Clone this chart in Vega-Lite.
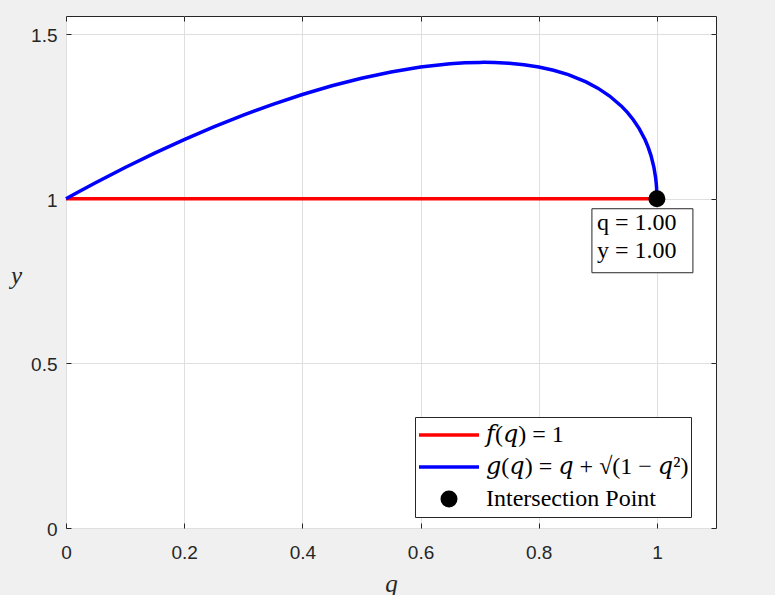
{
  "$schema": "https://vega.github.io/schema/vega-lite/v6.json",
  "width": 650,
  "height": 512,
  "autosize": "none",
  "padding": {"left": 66, "top": 16, "right": 59, "bottom": 67},
  "background": "#f0f0f0",
  "config": {
    "view": {"fill": "white", "stroke": "#262626", "strokeWidth": 1},
    "axis": {
      "labelFont": "Liberation Sans",
      "labelFontSize": 19,
      "labelColor": "#262626",
      "labelFlush": false,
      "tickColor": "#262626",
      "tickSize": -5,
      "tickWidth": 1,
      "domain": false,
      "gridColor": "#dfdfdf",
      "gridWidth": 1,
      "titleFont": "Liberation Serif",
      "titleFontStyle": "italic",
      "titleFontWeight": "normal",
      "titleFontSize": 25,
      "titleColor": "#262626"
    }
  },
  "datasets": {
    "f": [
      {"series": "𝑓(𝑞) = 1", "q": 0, "y": 1},
      {"series": "𝑓(𝑞) = 1", "q": 1, "y": 1}
    ],
    "g": [
      {"series": "𝑔(𝑞) = 𝑞 + √(1 − 𝑞²)", "q": 0, "y": 1},
      {"series": "𝑔(𝑞) = 𝑞 + √(1 − 𝑞²)", "q": 0.02, "y": 1.0198},
      {"series": "𝑔(𝑞) = 𝑞 + √(1 − 𝑞²)", "q": 0.05, "y": 1.04875},
      {"series": "𝑔(𝑞) = 𝑞 + √(1 − 𝑞²)", "q": 0.1, "y": 1.09499},
      {"series": "𝑔(𝑞) = 𝑞 + √(1 − 𝑞²)", "q": 0.15, "y": 1.13869},
      {"series": "𝑔(𝑞) = 𝑞 + √(1 − 𝑞²)", "q": 0.2, "y": 1.1798},
      {"series": "𝑔(𝑞) = 𝑞 + √(1 − 𝑞²)", "q": 0.25, "y": 1.21825},
      {"series": "𝑔(𝑞) = 𝑞 + √(1 − 𝑞²)", "q": 0.3, "y": 1.25394},
      {"series": "𝑔(𝑞) = 𝑞 + √(1 − 𝑞²)", "q": 0.35, "y": 1.28675},
      {"series": "𝑔(𝑞) = 𝑞 + √(1 − 𝑞²)", "q": 0.4, "y": 1.31652},
      {"series": "𝑔(𝑞) = 𝑞 + √(1 − 𝑞²)", "q": 0.45, "y": 1.34303},
      {"series": "𝑔(𝑞) = 𝑞 + √(1 − 𝑞²)", "q": 0.5, "y": 1.36603},
      {"series": "𝑔(𝑞) = 𝑞 + √(1 − 𝑞²)", "q": 0.55, "y": 1.38516},
      {"series": "𝑔(𝑞) = 𝑞 + √(1 − 𝑞²)", "q": 0.6, "y": 1.4},
      {"series": "𝑔(𝑞) = 𝑞 + √(1 − 𝑞²)", "q": 0.65, "y": 1.40993},
      {"series": "𝑔(𝑞) = 𝑞 + √(1 − 𝑞²)", "q": 0.675, "y": 1.41282},
      {"series": "𝑔(𝑞) = 𝑞 + √(1 − 𝑞²)", "q": 0.7, "y": 1.41414},
      {"series": "𝑔(𝑞) = 𝑞 + √(1 − 𝑞²)", "q": 0.707, "y": 1.41421},
      {"series": "𝑔(𝑞) = 𝑞 + √(1 − 𝑞²)", "q": 0.725, "y": 1.41375},
      {"series": "𝑔(𝑞) = 𝑞 + √(1 − 𝑞²)", "q": 0.75, "y": 1.41144},
      {"series": "𝑔(𝑞) = 𝑞 + √(1 − 𝑞²)", "q": 0.775, "y": 1.40696},
      {"series": "𝑔(𝑞) = 𝑞 + √(1 − 𝑞²)", "q": 0.8, "y": 1.4},
      {"series": "𝑔(𝑞) = 𝑞 + √(1 − 𝑞²)", "q": 0.825, "y": 1.39013},
      {"series": "𝑔(𝑞) = 𝑞 + √(1 − 𝑞²)", "q": 0.85, "y": 1.37678},
      {"series": "𝑔(𝑞) = 𝑞 + √(1 − 𝑞²)", "q": 0.88, "y": 1.35497},
      {"series": "𝑔(𝑞) = 𝑞 + √(1 − 𝑞²)", "q": 0.9, "y": 1.33589},
      {"series": "𝑔(𝑞) = 𝑞 + √(1 − 𝑞²)", "q": 0.92, "y": 1.31192},
      {"series": "𝑔(𝑞) = 𝑞 + √(1 − 𝑞²)", "q": 0.94, "y": 1.28117},
      {"series": "𝑔(𝑞) = 𝑞 + √(1 − 𝑞²)", "q": 0.95, "y": 1.26225},
      {"series": "𝑔(𝑞) = 𝑞 + √(1 − 𝑞²)", "q": 0.96, "y": 1.24},
      {"series": "𝑔(𝑞) = 𝑞 + √(1 − 𝑞²)", "q": 0.97, "y": 1.2131},
      {"series": "𝑔(𝑞) = 𝑞 + √(1 − 𝑞²)", "q": 0.98, "y": 1.179},
      {"series": "𝑔(𝑞) = 𝑞 + √(1 − 𝑞²)", "q": 0.985, "y": 1.15755},
      {"series": "𝑔(𝑞) = 𝑞 + √(1 − 𝑞²)", "q": 0.99, "y": 1.13107},
      {"series": "𝑔(𝑞) = 𝑞 + √(1 − 𝑞²)", "q": 0.995, "y": 1.09487},
      {"series": "𝑔(𝑞) = 𝑞 + √(1 − 𝑞²)", "q": 0.998, "y": 1.06121},
      {"series": "𝑔(𝑞) = 𝑞 + √(1 − 𝑞²)", "q": 0.999, "y": 1.04371},
      {"series": "𝑔(𝑞) = 𝑞 + √(1 − 𝑞²)", "q": 0.9995, "y": 1.03112},
      {"series": "𝑔(𝑞) = 𝑞 + √(1 − 𝑞²)", "q": 1, "y": 1}
    ],
    "pt": [
      {"series": "Intersection Point", "q": 1, "y": 1, "label": "q = 1.00\ny = 1.00"}
    ]
  },
  "resolve": {"axis": {"x": "independent", "y": "independent"}},
  "layer": [
    {
      "data": {"name": "f"},
      "mark": {"type": "line", "strokeWidth": 3.5},
      "encoding": {
        "x": {
          "field": "q", "type": "quantitative",
          "scale": {"domain": [0, 1.1], "nice": false, "zero": false},
          "axis": {"orient": "bottom", "values": [0, 0.2, 0.4, 0.6, 0.8, 1], "format": "~g", "labelPadding": 20, "title": "q", "titleY": 55, "titleBaseline": "middle"}
        },
        "y": {
          "field": "y", "type": "quantitative",
          "scale": {"domain": [0, 1.555], "nice": false, "zero": false},
          "axis": {"orient": "left", "values": [0, 0.5, 1, 1.5], "format": "~g", "labelPadding": 14, "labelOffset": 1.5, "title": "y", "titleAngle": 0, "titleX": -50, "titleY": 259, "titleBaseline": "middle", "titleAlign": "center"}
        },
        "color": {
          "field": "series", "type": "nominal",
          "scale": {"domain": ["𝑓(𝑞) = 1", "𝑔(𝑞) = 𝑞 + √(1 − 𝑞²)", "Intersection Point"], "range": ["#ff0000", "#0000ff", "#000000"]},
          "legend": {
            "title": null,
            "orient": "none",
            "legendX": 349,
            "legendY": 401,
            "symbolType": "stroke",
            "symbolSize": 3600,
            "symbolStrokeWidth": 3.5,
            "clipHeight": 32,
            "rowPadding": 0,
            "padding": 2,
            "labelOffset": 5,
            "labelFont": "Liberation Serif, DejaVu Serif",
            "labelFontSize": 24,
            "labelColor": "#000000",
            "labelLimit": 400,
            "strokeColor": "#262626",
            "fillColor": "#ffffff",
            "encode": {
              "symbols": {
                "update": {
                  "shape": {"signal": "datum.value === 'Intersection Point' ? 'M0.225,0A0.225,0.225,0,1,1,-0.225,0A0.225,0.225,0,1,1,0.225,0Z' : 'stroke'"},
                  "fill": {"signal": "datum.value === 'Intersection Point' ? '#000000' : 'transparent'"},
                  "stroke": {"scale": "color", "field": "value"},
                  "opacity": {"value": 1}
                }
              }
            }
          }
        }
      }
    },
    {
      "data": {"name": "g"},
      "mark": {"type": "line", "strokeWidth": 3.5},
      "encoding": {
        "x": {"field": "q", "type": "quantitative", "axis": {"orient": "top", "values": [0, 0.2, 0.4, 0.6, 0.8, 1], "labels": false, "grid": false, "title": null}},
        "y": {"field": "y", "type": "quantitative", "axis": {"orient": "right", "values": [0, 0.5, 1, 1.5], "labels": false, "grid": false, "title": null}},
        "color": {"field": "series", "type": "nominal"}
      }
    },
    {
      "data": {"name": "pt"},
      "mark": {"type": "rect", "width": 101, "height": 64, "xOffset": -14.5, "yOffset": 42, "fill": "#ffffff", "stroke": "#262626", "strokeWidth": 1},
      "encoding": {
        "x": {"field": "q", "type": "quantitative", "axis": null},
        "y": {"field": "y", "type": "quantitative", "axis": null}
      }
    },
    {
      "data": {"name": "pt"},
      "mark": {"type": "text", "align": "left", "baseline": "middle", "dx": -60, "dy": 24, "lineBreak": "\n", "lineHeight": 28, "font": "Liberation Serif", "fontSize": 24, "color": "#000000"},
      "encoding": {
        "x": {"field": "q", "type": "quantitative", "axis": null},
        "y": {"field": "y", "type": "quantitative", "axis": null},
        "text": {"field": "label"}
      }
    },
    {
      "data": {"name": "pt"},
      "mark": {"type": "circle", "size": 289, "opacity": 1},
      "encoding": {
        "x": {"field": "q", "type": "quantitative", "axis": null},
        "y": {"field": "y", "type": "quantitative", "axis": null},
        "color": {"field": "series", "type": "nominal"}
      }
    }
  ]
}
